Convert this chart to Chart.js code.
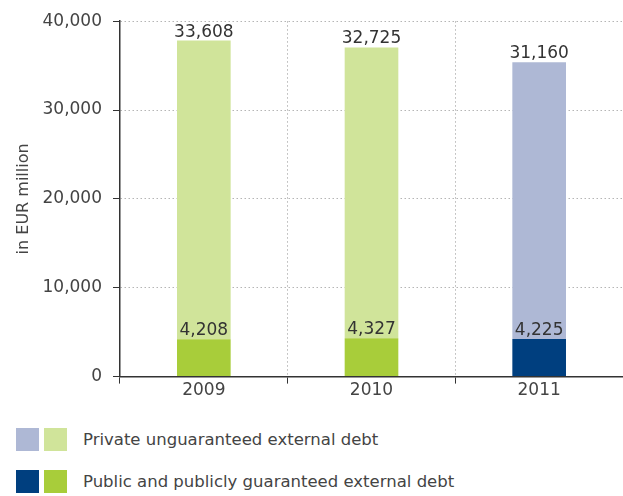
<!DOCTYPE html>
<html>
<head>
<meta charset="utf-8">
<script src="https://cdn.jsdelivr.net/npm/chart.js@4/dist/chart.umd.min.js"></script>
<style>
  body { margin: 0; background: #fff; }
  #wrap { position: relative; width: 623px; height: 496px; font-family: "DejaVu Sans", sans-serif; }
  #chartBox { position: absolute; left: 0; top: 0; width: 623px; height: 398px; }
  .leg { position: absolute; left: 16px; height: 23px; display: flex; align-items: center; color: #444; font-size: 16.5px; }
  .sw { width: 23px; height: 23px; margin-right: 5px; }
  .leg span { margin-left: 11px; }
</style>
</head>
<body>
<div id="wrap">
  <div id="chartBox"><canvas id="debtChart"></canvas></div>
  <div class="leg" style="top:428px"><div class="sw" style="background:#aeb8d5"></div><div class="sw" style="background:#d0e49a"></div><span>Private unguaranteed external debt</span></div>
  <div class="leg" style="top:470px"><div class="sw" style="background:#003f7f"></div><div class="sw" style="background:#a8cd3a"></div><span>Public and publicly guaranteed external debt</span></div>
</div>
<script>
// Chart Data
const years = ["2009", "2010", "2011"];
const publicDebt = [4208, 4327, 4225];
const privateDebt = [33608, 32725, 31160];
const yTicks = [0, 10000, 20000, 30000, 40000];

const publicColors = ["#a8cd3a", "#a8cd3a", "#003f7f"];
const privateColors = ["#d0e49a", "#d0e49a", "#aeb8d5"];

// Value labels on top of each segment
const valueLabels = {
  id: "valueLabels",
  afterDatasetsDraw(chart) {
    const ctx = chart.ctx;
    ctx.save();
    ctx.font = "17px 'DejaVu Sans'";
    ctx.fillStyle = "#333";
    ctx.textAlign = "center";
    ctx.textBaseline = "bottom";
    chart.data.datasets.forEach((ds, i) => {
      chart.getDatasetMeta(i).data.forEach((bar, j) => {
        ctx.fillText(ds.data[j].toLocaleString("en-US"), bar.x, bar.y);
      });
    });
    ctx.restore();
  },
};

const ctx = document.getElementById("debtChart").getContext("2d");
const debtChart = new Chart(ctx, {
  type: "bar",
  data: {
    labels: years,
    datasets: [
      { label: "Public and publicly guaranteed external debt", data: publicDebt, backgroundColor: publicColors },
      { label: "Private unguaranteed external debt", data: privateDebt, backgroundColor: privateColors },
    ],
  },
  options: {
    responsive: true,
    maintainAspectRatio: false,
    animation: false,
    layout: { padding: { top: 14, right: 0, left: 0, bottom: 0 } },
    datasets: { bar: { categoryPercentage: 1, barPercentage: 0.32 } },
    plugins: { legend: { display: false }, tooltip: { enabled: false } },
    scales: {
      x: {
        stacked: true,
        grid: { color: "#b5b5b5", tickColor: "#333", tickBorderDash: [], tickLength: 7, offset: true },
        border: { display: true, color: "#333", width: 1.5, dash: [1.5, 2.5] },
        ticks: { color: "#444", font: { family: "DejaVu Sans", size: 17 }, padding: -3 },
      },
      y: {
        stacked: true,
        min: 0,
        max: 40000,
        afterBuildTicks: (scale) => { scale.ticks = yTicks.map((v) => ({ value: v })); },
        afterFit: (scale) => { scale.width = 120; },
        grid: { color: "#b5b5b5", tickColor: "#333", tickBorderDash: [], tickLength: 7 },
        border: { display: true, color: "#333", width: 1.5, dash: [1.5, 2.5] },
        ticks: {
          color: "#444",
          font: { family: "DejaVu Sans", size: 17 },
          padding: 11,
          callback: (v) => v.toLocaleString("en-US"),
        },
        title: { display: true, text: "in EUR million", color: "#444", font: { family: "DejaVu Sans", size: 16 }, padding: { top: 14, bottom: 0 } },
      },
    },
  },
  plugins: [valueLabels],
});
</script>
</body>
</html>
